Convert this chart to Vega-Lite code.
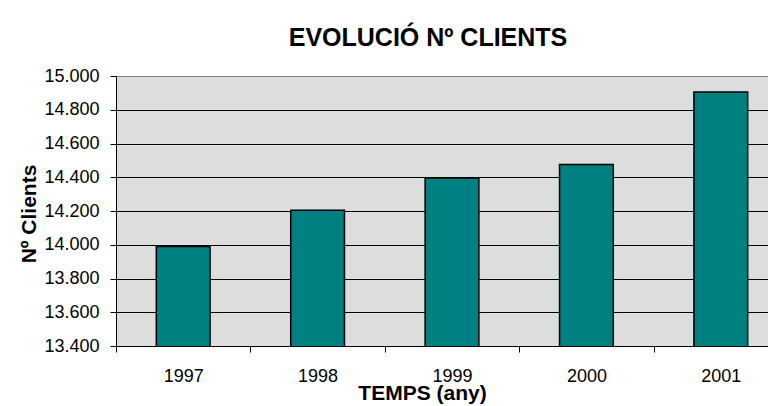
{
  "$schema": "https://vega.github.io/schema/vega-lite/v6.json",
  "width": 672,
  "height": 270,
  "autosize": {"type": "none"},
  "padding": {"left": 116, "top": 76, "right": 0, "bottom": 60},
  "background": "white",
  "title": {
    "text": "EVOLUCIÓ Nº CLIENTS",
    "font": "Liberation Sans",
    "fontSize": 25,
    "fontWeight": "bold",
    "color": "black",
    "anchor": "middle",
    "baseline": "alphabetic",
    "dx": -24,
    "offset": -4
  },
  "data": {
    "values": [
      {"year": "1997", "clients": 13990},
      {"year": "1998", "clients": 14205},
      {"year": "1999", "clients": 14395},
      {"year": "2000", "clients": 14476},
      {"year": "2001", "clients": 14905}
    ]
  },
  "mark": {"type": "bar", "color": "#008080", "stroke": "black", "strokeWidth": 1.5, "clip": true},
  "encoding": {
    "x": {
      "field": "year",
      "type": "ordinal",
      "scale": {"paddingInner": 0.6, "paddingOuter": 0.3},
      "axis": {
        "title": "TEMPS (any)",
        "titleFont": "Liberation Sans",
        "titleFontSize": 21,
        "titleFontWeight": "bold",
        "titleColor": "black",
        "titleX": 306,
        "titleY": 53,
        "titleBaseline": "alphabetic",
        "titleAlign": "center",
        "labelAngle": 0,
        "labelFont": "Liberation Sans",
        "labelFontSize": 18,
        "labelColor": "black",
        "labelPadding": 15,
        "tickOffset": -67.2,
        "labelOffset": 67.2,
        "tickColor": "black",
        "tickSize": 6,
        "domainColor": "black",
        "grid": false
      }
    },
    "y": {
      "field": "clients",
      "type": "quantitative",
      "scale": {"domain": [13400, 15000], "zero": false, "nice": false},
      "axis": {
        "title": "Nº Clients",
        "titleFont": "Liberation Sans",
        "titleFontSize": 21,
        "titleFontWeight": "bold",
        "titleColor": "black",
        "titleAngle": -90,
        "titleX": -80.5,
        "titleY": 137.5,
        "titleBaseline": "alphabetic",
        "titleAlign": "center",
        "values": [13400, 13600, 13800, 14000, 14200, 14400, 14600, 14800, 15000],
        "format": ",d",
        "labelFont": "Liberation Sans",
        "labelFontSize": 18,
        "labelColor": "black",
        "labelPadding": 11,
        "tickColor": "black",
        "tickSize": 6,
        "domainColor": "black",
        "grid": true,
        "gridColor": {"condition": {"test": "datum.value == 15000", "value": "#808080"}, "value": "black"},
        "gridOpacity": 1
      }
    }
  },
  "config": {
    "locale": {"number": {"decimal": ",", "thousands": ".", "grouping": [3], "currency": ["", " €"]}},
    "view": {"fill": "#DDDDDD", "stroke": "#808080"}
  }
}
